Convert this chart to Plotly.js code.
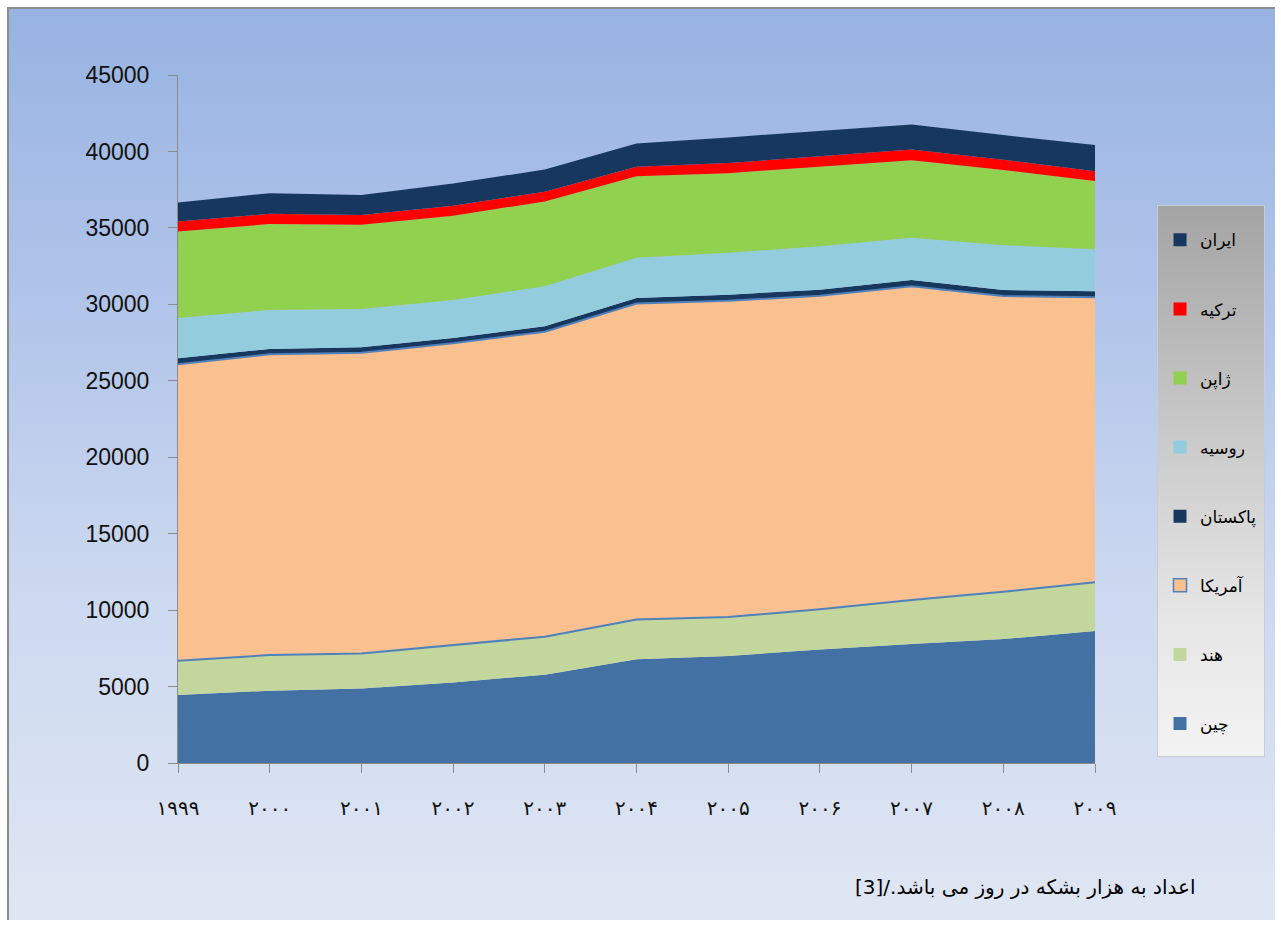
<!DOCTYPE html>
<html>
<head>
<meta charset="utf-8">
<script src="https://cdn.plot.ly/plotly-3.0.1.min.js"></script>
<style>
  html, body { margin: 0; padding: 0; width: 1281px; height: 926px; overflow: hidden; background: #ffffff; }
  #frame { position: absolute; left: 7px; top: 7px; width: 1268px; height: 913px; box-sizing: border-box;
           border-left: 2px solid #8c8c8c; border-top: 2px solid #8c8c8c;
           background: linear-gradient(to bottom, #97b3e2 0%, #b3c6ea 35%, #cdd9f0 65%, #dfe6f3 100%); }
  #legbg { position: absolute; left: 1157px; top: 205px; width: 108px; height: 552px; box-sizing: border-box;
           border: 1px solid #c8ccd4;
           background: linear-gradient(to bottom, #a4a4a4 0%, #c8c8c8 40%, #e6e6e6 75%, #f3f3f3 100%); }
  #chart { position: absolute; left: 0; top: 0; width: 1281px; height: 926px; }
</style>
</head>
<body>
<div id="frame"></div>
<div id="legbg"></div>
<div id="chart"></div>
<script>
// ---- data (thousand barrels per day) ----
const years = [1999, 2000, 2001, 2002, 2003, 2004, 2005, 2006, 2007, 2008, 2009];
const yearLabels = ['۱۹۹۹', '۲۰۰۰', '۲۰۰۱', '۲۰۰۲', '۲۰۰۳', '۲۰۰۴', '۲۰۰۵', '۲۰۰۶', '۲۰۰۷', '۲۰۰۸', '۲۰۰۹'];
const seriesNames = ['چین', 'هند', 'آمریکا', 'پاکستان', 'روسیه', 'ژاپن', 'ترکیه', 'ایران'];
const china    = [4450, 4730, 4880, 5270, 5780, 6780, 7000, 7430, 7780, 8110, 8630];
const india    = [2240, 2330, 2290, 2430, 2480, 2610, 2550, 2620, 2880, 3090, 3190];
const america  = [19390, 19670, 19670, 19750, 19950, 20670, 20680, 20510, 20530, 19340, 18640];
const pakistan = [400, 350, 350, 350, 350, 350, 400, 400, 400, 400, 400];
const russia   = [2630, 2550, 2500, 2480, 2630, 2630, 2740, 2840, 2760, 2930, 2750];
const japan    = [5660, 5620, 5510, 5520, 5540, 5330, 5210, 5200, 5080, 4910, 4450];
const turkey   = [650, 670, 650, 640, 640, 630, 660, 680, 690, 680, 640];
const iran     = [1240, 1350, 1300, 1460, 1450, 1520, 1680, 1670, 1650, 1610, 1720];
const yTicks = [0, 5000, 10000, 15000, 20000, 25000, 30000, 35000, 40000, 45000];
const footnote = 'اعداد به هزار بشکه در روز می باشد./[3]';

const seriesValues = [china, india, america, pakistan, russia, japan, turkey, iran];
const colors = ['#4471a3', '#c3d69b', '#fac090', '#17375e', '#93cddd', '#92d050', '#ff0000', '#17375e'];
const lineColors = [null, '#4f81bd', '#4f81bd', null, null, null, null, null];

const traces = [];
seriesValues.forEach((vals, i) => {
  traces.push({
    x: years, y: vals, type: 'scatter', mode: 'lines',
    stackgroup: 'one', fillcolor: colors[i],
    line: lineColors[i] ? {color: lineColors[i], width: 2} : {width: 0, color: colors[i]},
    showlegend: false, hoverinfo: 'skip', name: seriesNames[i]
  });
});
// legend entries (square swatches), top entry = last series
for (let i = seriesNames.length - 1; i >= 0; i--) {
  traces.push({
    x: [null], y: [null], type: 'scatter', mode: 'markers', name: seriesNames[i],
    legendgroup: 'g' + i, showlegend: true, hoverinfo: 'skip',
    marker: {symbol: 'square', size: 13, color: colors[i],
             line: {color: i === 2 ? '#4f81bd' : colors[i], width: i === 2 ? 1.5 : 0}}
  });
}

const layout = {
  width: 1281, height: 926,
  margin: {l: 178, r: 186, t: 75, b: 163},
  paper_bgcolor: 'rgba(0,0,0,0)', plot_bgcolor: 'rgba(0,0,0,0)',
  showlegend: true,
  font: {family: 'Liberation Sans, Arial, DejaVu Sans, sans-serif', color: '#000'},
  xaxis: {
    range: [1999, 2009], tickmode: 'array', tickvals: years, ticktext: yearLabels,
    showgrid: false, zeroline: false, showline: true, linecolor: '#8c8c8c', linewidth: 1,
    ticks: 'outside', ticklen: 9, tickcolor: '#8c8c8c',
    ticklabelstandoff: 18,
    tickfont: {family: 'DejaVu Sans, sans-serif', size: 20, color: '#111'}
  },
  yaxis: {
    range: [0, 45000], tickmode: 'array', tickvals: yTicks, ticktext: yTicks.map(String),
    showgrid: false, zeroline: false, showline: true, linecolor: '#8c8c8c', linewidth: 1,
    ticks: 'outside', ticklen: 9, tickcolor: '#8c8c8c',
    ticklabelstandoff: 14,
    tickfont: {family: 'Liberation Sans, Arial, sans-serif', size: 23, color: '#111'}
  },
  legend: {
    x: 1.0709, xanchor: 'left', y: 0.786, yanchor: 'top',
    bgcolor: 'rgba(0,0,0,0)', borderwidth: 0,
    traceorder: 'grouped', tracegroupgap: 44,
    font: {family: 'DejaVu Sans, sans-serif', size: 17, color: '#000'}
  },
  annotations: [{
    text: '\u202B' + footnote + '\u202C', xref: 'paper', yref: 'paper',
    x: 1.1123, xanchor: 'right', y: -0.1802, yanchor: 'middle', showarrow: false,
    font: {family: 'DejaVu Sans, sans-serif', size: 20, color: '#000'}
  }]
};

Plotly.newPlot('chart', traces, layout, {displayModeBar: false, staticPlot: true});
</script>
</body>
</html>
